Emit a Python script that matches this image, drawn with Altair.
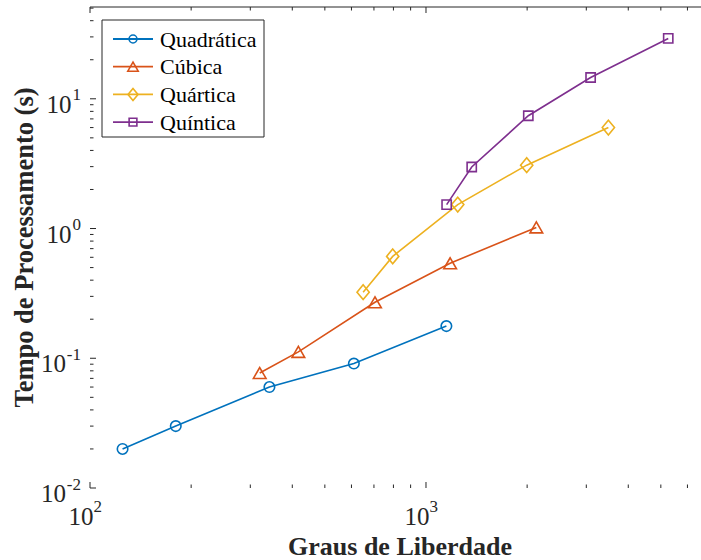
import altair as alt
import pandas as pd

# ---------------- data ----------------
names = ["Quadrática", "Cúbica", "Quártica", "Quíntica"]
colors = ["#0072BD", "#D95319", "#EDB120", "#7E2F8E"]

quad_x = [125, 180, 342, 610, 1150]
quad_y = [0.020, 0.030, 0.060, 0.091, 0.177]
cub_x = [320, 417, 705, 1180, 2130]
cub_y = [0.077, 0.112, 0.270, 0.54, 1.02]
quar_x = [650, 796, 1243, 1994, 3490]
quar_y = [0.323, 0.61, 1.53, 3.08, 6.0]
quin_x = [1152, 1368, 2016, 3090, 5260]
quin_y = [1.53, 2.98, 7.4, 14.6, 29.2]

x_major = [100, 1000]
x_minor = [200, 300, 400, 500, 600, 700, 800, 900,
           2000, 3000, 4000, 5000, 6000]
y_major = [0.01, 0.1, 1, 10]
y_minor = [0.02, 0.03, 0.04, 0.05, 0.06, 0.07, 0.08, 0.09,
           0.2, 0.3, 0.4, 0.5, 0.6, 0.7, 0.8, 0.9,
           2, 3, 4, 5, 6, 7, 8, 9, 20, 30, 40, 50]
x_label_exp = ["2", "3"]
y_label_exp = ["-2", "-1", "0", "1"]
x_title = "Graus de Liberdade"
y_title = "Tempo de Processamento (s)"

series_x = [quad_x, cub_x, quar_x, quin_x]
series_y = [quad_y, cub_y, quar_y, quin_y]
rows = []
for n, xs_, ys_ in zip(names, series_x, series_y):
    for xv, yv in zip(xs_, ys_):
        rows.append({"series": n, "x": xv, "y": yv})
df = pd.DataFrame(rows)

# ---------------- styling ----------------
W, H = 611, 481
FONT = "Liberation Serif, Times New Roman, serif"
AX = "#262626"
diamond = "M0,-1.2L1,0L0,1.2L-1,0Z"
shapes = ["circle", "triangle-up", diamond, "square"]
plot_sizes = [110, 160, 150, 85]
legend_sizes = [62, 108, 100, 60]

xs = alt.Scale(type="log", domain=[100, 6584], nice=False)
ys = alt.Scale(type="log", domain=[0.01, 51], nice=False)
cscale = alt.Scale(domain=names, range=colors)

xaxis = alt.Axis(title=None, labels=False, ticks=False, grid=False,
                 domainColor=AX, domainWidth=1)
yaxis = alt.Axis(title=None, labels=False, ticks=False, grid=False,
                 domainColor=AX, domainWidth=1)

lines = alt.Chart(df).mark_line(strokeWidth=1.6).encode(
    x=alt.X("x:Q", scale=xs, axis=xaxis),
    y=alt.Y("y:Q", scale=ys, axis=yaxis),
    color=alt.Color("series:N", scale=cscale, legend=None),
    detail="series:N",
)

point_layers = []
for n, c, s, z in zip(names, colors, shapes, plot_sizes):
    point_layers.append(
        alt.Chart(df).transform_filter(alt.datum.series == n).mark_point(
            filled=False, strokeWidth=1.6, opacity=1, color=c, shape=s, size=z
        ).encode(
            x=alt.X("x:Q", scale=xs, axis=None),
            y=alt.Y("y:Q", scale=ys, axis=None),
        )
    )

# ---------------- inward ticks ----------------
xmaj = pd.DataFrame({"v": x_major})
xmin = pd.DataFrame({"v": x_minor})
ymaj = pd.DataFrame({"v": y_major})
ymin = pd.DataFrame({"v": y_minor})

tick_layers = []
for d, L in [(xmaj, 6), (xmin, 3.5)]:
    tick_layers.append(alt.Chart(d).mark_rule(color=AX, strokeWidth=1).encode(
        x=alt.X("v:Q", scale=xs, axis=None), y=alt.value(H), y2=alt.value(H - L)))
    tick_layers.append(alt.Chart(d).mark_rule(color=AX, strokeWidth=1).encode(
        x=alt.X("v:Q", scale=xs, axis=None), y=alt.value(0), y2=alt.value(L)))
for d, L in [(ymaj, 6), (ymin, 3.5)]:
    tick_layers.append(alt.Chart(d).mark_rule(color=AX, strokeWidth=1).encode(
        y=alt.Y("v:Q", scale=ys, axis=None), x=alt.value(0), x2=alt.value(L)))

one = pd.DataFrame({"k": [0]})
top_border = alt.Chart(one).mark_rule(color=AX, strokeWidth=1).encode(
    x=alt.value(0), x2=alt.value(W), y=alt.value(0))

# ---------------- tick labels (10^n) ----------------
xl = pd.DataFrame({"v": x_major, "base": ["10"] * len(x_major), "exp": x_label_exp})
yl = pd.DataFrame({"v": y_major, "base": ["10"] * len(y_major), "exp": y_label_exp})

xl_base = alt.Chart(xl).mark_text(align="right", baseline="alphabetic", dx=3.5,
                                  font=FONT, fontSize=25, color=AX).encode(
    x=alt.X("v:Q", scale=xs, axis=None), y=alt.value(H + 37), text="base:N")
xl_exp = alt.Chart(xl).mark_text(align="left", baseline="alphabetic", dx=3.5,
                                 font=FONT, fontSize=17, color=AX).encode(
    x=alt.X("v:Q", scale=xs, axis=None), y=alt.value(H + 24), text="exp:N")

yl_exp = alt.Chart(yl).mark_text(align="right", baseline="alphabetic", dy=1.5,
                                 font=FONT, fontSize=17, color=AX).encode(
    y=alt.Y("v:Q", scale=ys, axis=None), x=alt.value(-9), text="exp:N")
yl_base_long = alt.Chart(yl).transform_filter("length(datum.exp) > 1").mark_text(
    align="right", baseline="alphabetic", dy=14, font=FONT, fontSize=25, color=AX).encode(
    y=alt.Y("v:Q", scale=ys, axis=None), x=alt.value(-24), text="base:N")
yl_base_short = alt.Chart(yl).transform_filter("length(datum.exp) <= 1").mark_text(
    align="right", baseline="alphabetic", dy=14, font=FONT, fontSize=25, color=AX).encode(
    y=alt.Y("v:Q", scale=ys, axis=None), x=alt.value(-18.5), text="base:N")

# ---------------- axis titles ----------------
titles = pd.DataFrame({"x_title": [x_title], "y_title": [y_title]})
x_title_mark = alt.Chart(titles).mark_text(
    align="center", baseline="alphabetic", font=FONT, fontSize=26,
    fontWeight="bold", color=AX).encode(
    x=alt.value(310), y=alt.value(H + 67), text="x_title:N")
y_title_mark = alt.Chart(titles).mark_text(
    align="center", baseline="alphabetic", angle=270, font=FONT, fontSize=26.5,
    fontWeight="bold", color=AX).encode(
    x=alt.value(-57), y=alt.value(H / 2), text="y_title:N")

# ---------------- legend ----------------
leg_box = alt.Chart(one).mark_rect(fill="white", stroke=AX, strokeWidth=1).encode(
    x=alt.value(12), x2=alt.value(174), y=alt.value(13), y2=alt.value(130))
leg_layers = [leg_box]
leg_df = pd.DataFrame({"series": names})
row0, step = 32, 27.7
for i, (n, c, s, z) in enumerate(zip(names, colors, shapes, legend_sizes)):
    ry = row0 + i * step
    base = alt.Chart(leg_df).transform_filter(alt.datum.series == n)
    leg_layers.append(base.mark_rule(color=c, strokeWidth=1.8).encode(
        x=alt.value(23), x2=alt.value(63), y=alt.value(ry)))
    leg_layers.append(base.mark_point(filled=False, color=c, strokeWidth=1.6,
                                      opacity=1, shape=s, size=z).encode(
        x=alt.value(43), y=alt.value(ry)))
    leg_layers.append(base.mark_text(align="left", baseline="alphabetic", font=FONT,
                                     fontSize=22, color="black").encode(
        x=alt.value(70), y=alt.value(ry + 7.5), text="series:N"))

chart = alt.layer(
    lines, *point_layers, *tick_layers, top_border,
    xl_base, xl_exp, yl_exp, yl_base_long, yl_base_short,
    x_title_mark, y_title_mark,
    *leg_layers,
).properties(
    width=W, height=H,
    autosize=alt.AutoSizeParams(type="none"),
    padding={"left": 90, "top": 7, "right": 0, "bottom": 72},
    background="white",
).configure_view(stroke=None)

chart.save("out.html", embed_options={"renderer": "svg", "actions": False})
